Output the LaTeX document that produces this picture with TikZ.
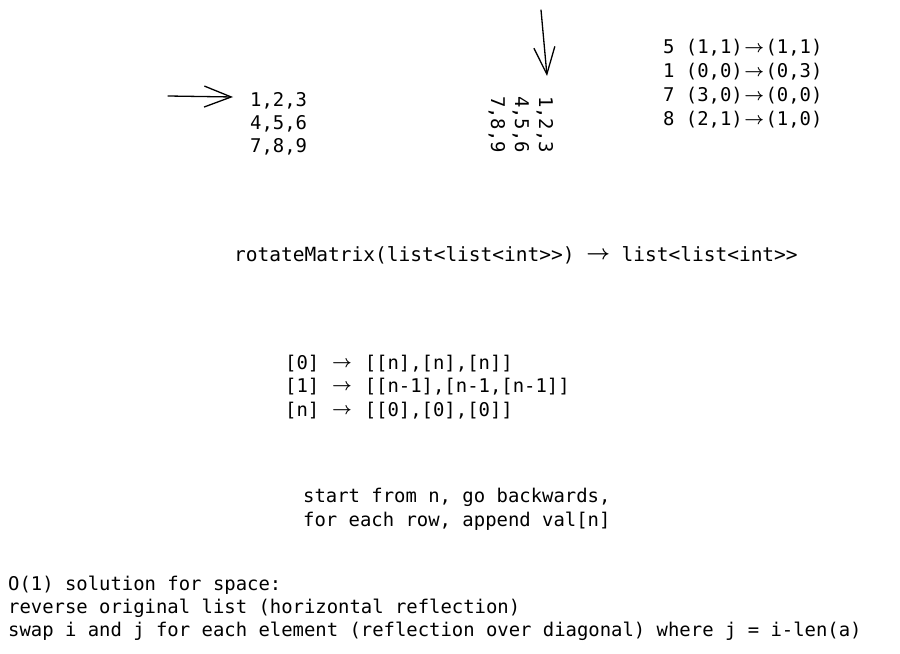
\documentclass[tikz,border=0pt]{standalone}
\usepackage{fontspec}
\newfontfamily\codefont{DejaVu Sans Mono}
\usetikzlibrary{arrows.meta}
\newcommand\arr{\makebox[1.204em]{\raisebox{0.1em}{\boldmath$\rightarrow$}}}
\begin{document}
\begin{tikzpicture}[x=1bp,y=-1bp,
  txt/.style={font=\codefont\fontsize{18.9bp}{23.5bp}\selectfont, inner sep=0pt, anchor=base west},
  bigtxt/.style={font=\codefont\fontsize{19.5bp}{24bp}\selectfont, inner sep=0pt, anchor=base west},
  sketch/.style={line width=1.3bp, line cap=round, line join=round, -{Straight Barb[length=27bp,width=21bp]}}]
\useasboundingbox (0,0) rectangle (900,654);

% left matrix
\node[txt] (a1) at (250,107) {1,2,3};
\node[txt] (a2) at (250,130) {4,5,6};
\node[txt] (a3) at (250,153) {7,8,9};

% rotated matrix
\node[txt, rotate=-90] (b1) at (539,96) {1,2,3};
\node[txt, rotate=-90] (b2) at (515,96) {4,5,6};
\node[txt, rotate=-90] (b3) at (491,96) {7,8,9};

% mapping
\node[txt] (c1) at (663,54) {5 (1,1)\arr(1,1)};
\node[txt] (c2) at (663,78) {1 (0,0)\arr(0,3)};
\node[txt] (c3) at (663,102) {7 (3,0)\arr(0,0)};
\node[txt] (c4) at (663,126) {8 (2,1)\arr(1,0)};

% signature
\node[bigtxt] (d) at (234,261) {rotateMatrix(list<list<int>>) \arr{} list<list<int>>};

% index mapping
\node[txt] (e1) at (285,369) {[0] \arr{} [[n],[n],[n]]};
\node[txt] (e2) at (285,392.5) {[1] \arr{} [[n-1],[n-1,[n-1]]};
\node[txt] (e3) at (285,416) {[n] \arr{} [[0],[0],[0]]};

% method
\node[txt] (f1) at (303,502) {start from n, go backwards,};
\node[txt] (f2) at (303,526) {for each row, append val[n]};

% O(1) notes
\node[txt] (g1) at (8,590) {O(1) solution for space:};
\node[txt] (g2) at (8,613) {reverse original list (horizontal reflection)};
\node[txt] (g3) at (8,636) {swap i and j for each element (reflection over diagonal) where j = i-len(a)};

% hand-drawn arrows
\coordinate (tL) at (168,96);
\coordinate (hL) at (233,97);
\coordinate (tV) at (541,10);
\coordinate (hV) at (547,76);
\draw[sketch] (tL) -- (hL);
\draw[sketch] (tV) -- (hV);
\end{tikzpicture}
\end{document}
